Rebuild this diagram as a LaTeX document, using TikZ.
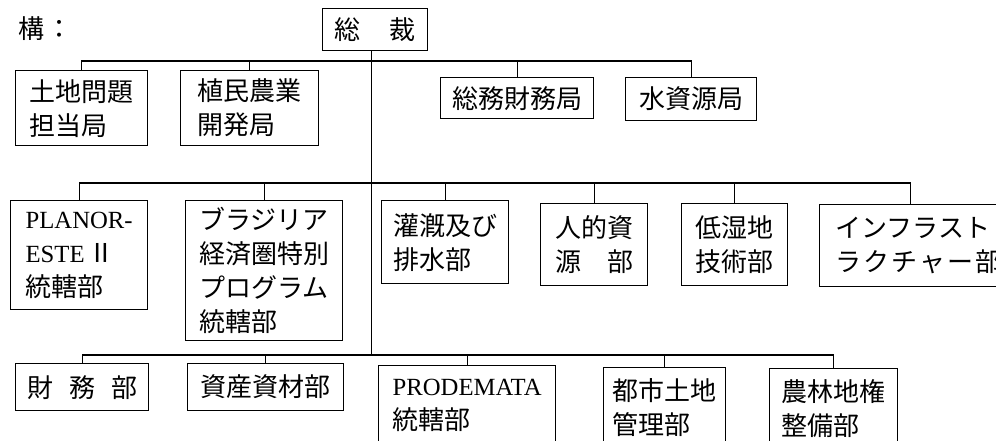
\documentclass[tikz,border=0pt]{standalone}
\usepackage{fontspec}
\setmainfont[Scale=0.95]{Liberation Serif}
\newfontfamily\jpfont{Noto Sans CJK JP}
\newcommand\kgap{\hspace{2pt}}

\begin{document}
\begin{tikzpicture}[x=1pt,y=-1pt,line width=1.3pt,
    font=\jpfont\fontsize{26}{34}\selectfont,
    unit/.style={draw,anchor=north west,align=left,inner sep=4pt}]
    \path[use as bounding box,clip] (0,0) rectangle (996,441);
    \node[anchor=west,inner sep=0pt] (kikou) at (18,29) {構\hspace{2pt}：};
    \node[unit,minimum width=105pt,minimum height=42pt] (sousai) at (322,8) {総\hspace{29pt}裁};
    % kyoku
    \node[unit,minimum width=132pt,minimum height=75pt] (tochi) at (15,70) {土地問題\\担当局};
    \node[unit,minimum width=138pt,minimum height=75pt] (shokumin) at (180,70) {植民農業\\開発局};
    \node[unit,minimum width=153pt,minimum height=41pt] (soumu) at (440,77) {総務財務局};
    \node[unit,minimum width=131pt,minimum height=43pt] (mizu) at (625,77) {水資源局};
    % bu, upper row
    \node[unit,minimum width=137pt,minimum height=109pt] (planor) at (10,200) {{\rmfamily PLANOR-}\\{\rmfamily ESTE}\,Ⅱ\\統轄部};
    \node[unit,minimum width=157pt,minimum height=140pt] (brasilia) at (185,200) {ブラジリア\\経済圏特別\\プログラム\\統轄部};
    \node[unit,minimum width=127pt,minimum height=83pt] (kangai) at (381,200) {灌漑及び\\排水部};
    \node[unit,minimum width=107pt,minimum height=82pt] (jinteki) at (540,203) {人的資\\源　部};
    \node[unit,minimum width=106pt,minimum height=82pt] (teishitsu) at (681,203) {低湿地\\技術部};
    \node[unit,minimum width=184pt,minimum height=82pt,inner xsep=16pt] (infra) at (819,204) {インフラスト\\ラ\kgap ク\kgap チ\kgap ャ\kgap ー\kgap 部};
    % bu, lower row
    \node[unit,minimum width=133pt,minimum height=47pt] (zaimu) at (15,363) {財\hspace{16pt}務\hspace{16pt}部};
    \node[unit,minimum width=156pt,minimum height=47pt] (shisan) at (187,363) {資産資材部};
    \node[unit,minimum width=177pt,minimum height=80pt] (prodemata) at (378,365) {{\rmfamily PRODEMATA}\\統轄部};
    \node[unit,minimum width=122pt,minimum height=80pt] (toshi) at (603,367) {都市土地\\管理部};
    \node[unit,minimum width=128pt,minimum height=80pt] (nourin) at (769,368) {農林地権\\整備部};
    % lines
    \coordinate (b1) at (0,61);
    \coordinate (b2) at (0,183);
    \coordinate (b3) at (0,355);
    \draw ([xshift=-4pt]sousai.south) -- ([xshift=-4pt]sousai.south |- b3);
    \draw (tochi.north) -- (tochi.north |- b1) -- (mizu.north |- b1) -- (mizu.north);
    \foreach \n in {shokumin,soumu}
        \draw (\n.north) -- (\n.north |- b1);
    \draw (planor.north) -- (planor.north |- b2) -- ([xshift=-8pt]infra.north |- b2) -- ([xshift=-8pt]infra.north);
    \foreach \n in {brasilia,kangai,jinteki,teishitsu}
        \draw (\n.north) -- (\n.north |- b2);
    \draw (zaimu.north) -- (zaimu.north |- b3) -- (nourin.north |- b3) -- (nourin.north);
    \foreach \n in {shisan,prodemata,toshi}
        \draw (\n.north) -- (\n.north |- b3);
\end{tikzpicture}
\end{document}
